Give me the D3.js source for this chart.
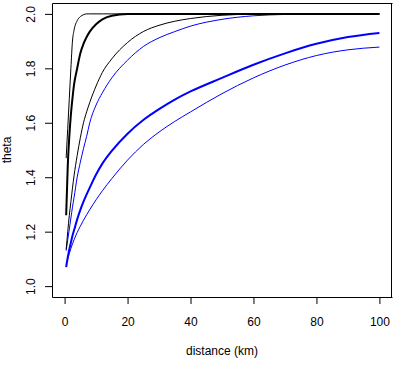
<!DOCTYPE html>
<html>
<head>
<meta charset="utf-8">
<script src="https://cdn.jsdelivr.net/npm/d3@7"></script>
<style>
  body { margin: 0; background: #fff; }
  text { font-family: "Liberation Sans", Arial, sans-serif; font-size: 12px; fill: #000; }
</style>
</head>
<body>
<div id="visualization"></div>
<script>
// distance grid (km) shared by all curves
const distance = [0.5, 1, 1.5, 2, 2.5, 3, 4, 5, 6, 7, 8, 10, 12, 15, 20, 25, 30, 35, 40, 50, 60, 70, 80, 90, 100];

// theta values
const thinBlack  = [1.47, 1.58, 1.69, 1.80, 1.90, 1.94, 1.975, 1.99, 1.997, 2.0, 2.0, 2.0, 2.0, 2.0, 2.0, 2.0, 2.0, 2.0, 2.0, 2.0, 2.0, 2.0, 2.0, 2.0, 2.0];
const thickBlack = [1.26, 1.44, 1.55, 1.63, 1.69, 1.74, 1.80, 1.855, 1.89, 1.915, 1.935, 1.962, 1.98, 1.993, 2.0, 2.0, 2.0, 2.0, 2.0, 2.0, 2.0, 2.0, 2.0, 2.0, 2.0];
const midBlack   = [1.135, 1.20, 1.26, 1.31, 1.36, 1.405, 1.48, 1.545, 1.60, 1.64, 1.675, 1.735, 1.785, 1.835, 1.895, 1.935, 1.958, 1.973, 1.983, 1.995, 1.999, 2.0, 2.0, 2.0, 2.0];
const upperBlue  = [1.13, 1.17, 1.21, 1.25, 1.29, 1.325, 1.40, 1.455, 1.505, 1.55, 1.60, 1.665, 1.71, 1.765, 1.83, 1.88, 1.912, 1.935, 1.955, 1.98, 1.993, 1.998, 2.0, 2.0, 2.0];
const thickBlue  = [1.07, 1.105, 1.135, 1.16, 1.185, 1.205, 1.245, 1.28, 1.31, 1.337, 1.362, 1.41, 1.45, 1.497, 1.56, 1.61, 1.65, 1.685, 1.715, 1.765, 1.813, 1.855, 1.89, 1.915, 1.93];
const lowerBlue  = [1.08, 1.10, 1.12, 1.138, 1.155, 1.17, 1.197, 1.22, 1.242, 1.262, 1.281, 1.317, 1.35, 1.395, 1.463, 1.52, 1.566, 1.605, 1.64, 1.707, 1.765, 1.812, 1.847, 1.868, 1.878];

const xTicks = [0, 20, 40, 60, 80, 100];
const yTicks = [1.0, 1.2, 1.4, 1.6, 1.8, 2.0];

const curves = [
  { values: lowerBlue,  color: "blue",  width: 1 },
  { values: upperBlue,  color: "blue",  width: 1 },
  { values: thickBlue,  color: "blue",  width: 2 },
  { values: midBlack,   color: "black", width: 1 },
  { values: thinBlack,  color: "black", width: 1 },
  { values: thickBlack, color: "black", width: 2 }
];

class ThetaChart {
  constructor() {
    this.buildLayout();
    this.buildSvg();
    this.drawCurves();
    this.drawFrame();
    this.drawAxes();
    this.drawLabels();
  }

  buildLayout() {
    this.width = 395;
    this.height = 372;
    this.plot = { left: 52, right: 392, top: 3, bottom: 297 };
    // R style: axis range padded by 4% on each side
    this.x = d3.scaleLinear().domain([-4, 104]).range([this.plot.left, this.plot.right]);
    this.y = d3.scaleLinear().domain([0.96, 2.04]).range([this.plot.bottom, this.plot.top]);
  }

  buildSvg() {
    this.svg = d3.select("#visualization").append("svg")
      .attr("width", this.width)
      .attr("height", this.height);
  }

  drawCurves() {
    var line = d3.line()
      .x((d, i) => this.x(distance[i]))
      .y(d => this.y(d))
      .curve(d3.curveMonotoneX);

    this.svg.append("g").selectAll("path")
      .data(curves)
      .join("path")
      .attr("d", d => line(d.values))
      .attr("fill", "none")
      .attr("stroke", d => d.color)
      .attr("stroke-width", d => d.width);
  }

  // the box() around the plot region, built from tick-less axes
  drawFrame() {
    var p = this.plot;
    var edge = (axis, tx, ty) => this.svg.append("g")
      .attr("transform", "translate(" + tx + "," + ty + ")")
      .call(axis.tickValues([]).tickSizeOuter(0));

    edge(d3.axisTop(this.x), 0, p.top);
    edge(d3.axisBottom(this.x), 0, p.bottom);
    edge(d3.axisLeft(this.y), p.left, 0);
    edge(d3.axisRight(this.y), p.right - 1, 0);
  }

  drawAxes() {
    var p = this.plot;

    var xAxis = this.svg.append("g")
      .attr("transform", "translate(0," + p.bottom + ")")
      .call(d3.axisBottom(this.x).tickValues(xTicks).tickSize(7).tickPadding(13).tickFormat(d3.format("d")));
    xAxis.select(".domain").remove();

    var yAxis = this.svg.append("g")
      .attr("transform", "translate(" + p.left + ",0)")
      .call(d3.axisLeft(this.y).tickValues(yTicks).tickSize(7).tickFormat(d3.format(".1f")));
    yAxis.select(".domain").remove();
    yAxis.selectAll(".tick text")
      .attr("x", null).attr("dy", null)
      .attr("text-anchor", "middle")
      .attr("transform", "translate(-21,0) rotate(-90)")
      .attr("y", "0.35em");

    this.svg.selectAll("g").attr("font-family", null).attr("font-size", null);
  }

  drawLabels() {
    var p = this.plot;

    this.svg.append("text")
      .attr("x", (p.left + p.right) / 2)
      .attr("y", 355)
      .attr("text-anchor", "middle")
      .text("distance (km)");

    this.svg.append("text")
      .attr("transform", "translate(11," + (p.top + p.bottom) / 2 + ") rotate(-90)")
      .attr("text-anchor", "middle")
      .text("theta");
  }
}

new ThetaChart();
</script>
</body>
</html>
